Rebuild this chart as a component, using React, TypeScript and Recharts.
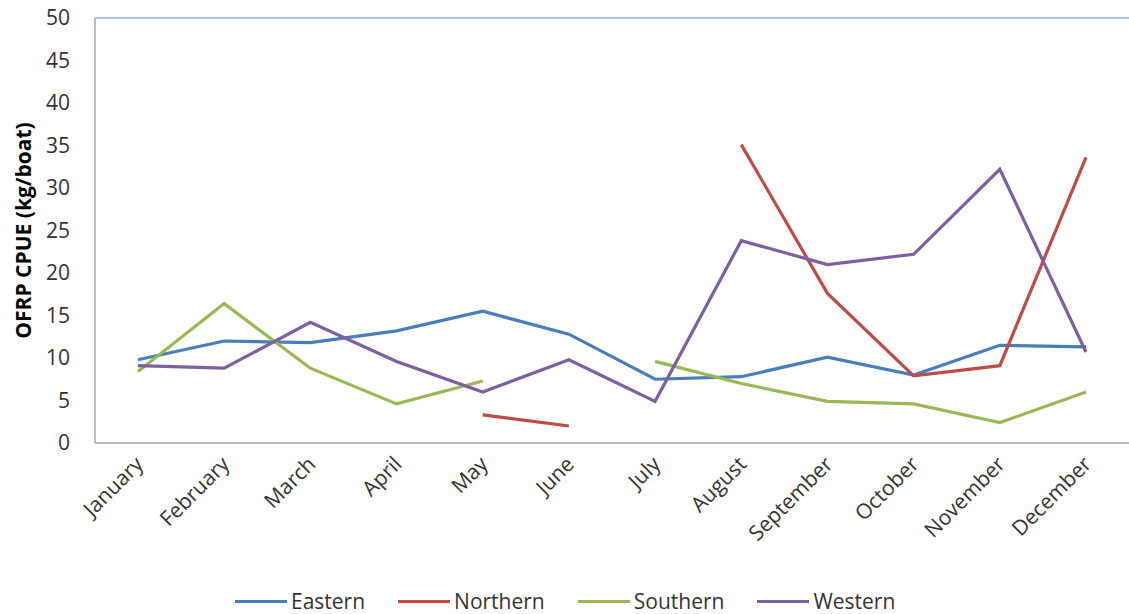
import React from "react";
import { LineChart, Line, XAxis, YAxis, ReferenceLine } from "recharts";

const months = ["January","February","March","April","May","June","July","August","September","October","November","December"];
const eastern = [9.8, 12.0, 11.8, 13.2, 15.5, 12.8, 7.5, 7.8, 10.1, 8.0, 11.5, 11.3];
const northern = [null, null, null, null, 3.3, 2.0, null, 35.1, 17.6, 7.9, 9.1, 33.6];
const southern = [8.4, 16.4, 8.8, 4.6, 7.3, null, 9.6, 7.0, 4.9, 4.6, 2.4, 6.0];
const western = [9.1, 8.8, 14.2, 9.6, 6.0, 9.8, 4.9, 23.8, 21.0, 22.2, 32.2, 10.7];
const yTicks = [0, 5, 10, 15, 20, 25, 30, 35, 40, 45, 50];
const yTitle = "OFRP CPUE (kg/boat)";

const seriesDefs = [
  { key: "Eastern", color: "#4A7EBB", values: eastern },
  { key: "Northern", color: "#BE4B48", values: northern },
  { key: "Southern", color: "#98B954", values: southern },
  { key: "Western", color: "#7D60A0", values: western },
];

const data = months.map((m, i) => {
  const row: any = { month: m };
  seriesDefs.forEach((s) => { row[s.key] = s.values[i]; });
  return row;
});

const FONT = "'Open Sans', sans-serif";

const XTick = (props: any) => {
  const { x, y, payload } = props;
  return (
    <g transform={`translate(${x - 4},${y + 4})`}>
      <text x={0} y={0} dy="0.71em" textAnchor="end" transform="rotate(-45)" fill="#333" fontSize={21} fontFamily={FONT}>
        {payload.value}
      </text>
    </g>
  );
};

const YTitle = (props: any) => {
  const vb = props.viewBox || { x: 0, y: 18, height: 425 };
  const cx = vb.x + 23;
  const cy = vb.y + vb.height / 2;
  return (
    <text x={cx} y={cy} transform={`rotate(-90 ${cx} ${cy})`} textAnchor="middle" dominantBaseline="central" fontWeight="bold" fontSize={21} fontFamily={FONT} fill="#000">
      {yTitle}
    </text>
  );
};

export default function App() {
  return (
    <div style={{ position: "absolute", left: 0, top: 0, width: 1129, height: 614, background: "#fff" }}>
      <LineChart width={1129} height={614} data={data} margin={{ top: 18, right: 0, bottom: 0, left: 0 }}>
        <XAxis
          dataKey="month"
          height={171}
          interval={0}
          padding={{ left: 43, right: 43 }}
          tickLine={false}
          tick={<XTick />}
          axisLine={{ stroke: "#A6A6A6", strokeWidth: 1.5 }}
        />
        <YAxis
          width={95}
          domain={[0, 50]}
          ticks={yTicks}
          interval={0}
          tickLine={false}
          tickSize={0}
          tickMargin={25}
          axisLine={{ stroke: "#A6A6A6", strokeWidth: 1.5 }}
          tick={{ fill: "#333", fontSize: 21, fontFamily: FONT }}
          label={<YTitle />}
        />
        <ReferenceLine y={50} stroke="#95B3D7" strokeWidth={1.5} />
        {seriesDefs.map((s) => (
          <Line key={s.key} type="linear" dataKey={s.key} stroke={s.color} strokeWidth={3.2} dot={false} activeDot={false} isAnimationActive={false} connectNulls={false} />
        ))}
      </LineChart>
      <div style={{ position: "absolute", left: 235, top: 587, display: "flex", alignItems: "center", fontFamily: FONT, fontSize: 21, color: "#333", whiteSpace: "nowrap" }}>
        {seriesDefs.map((s) => (
          <div key={s.key} style={{ display: "flex", alignItems: "center", marginRight: 33 }}>
            <div style={{ width: 52, height: 3, background: s.color, marginRight: 4 }} />
            <span>{s.key}</span>
          </div>
        ))}
      </div>
    </div>
  );
}
